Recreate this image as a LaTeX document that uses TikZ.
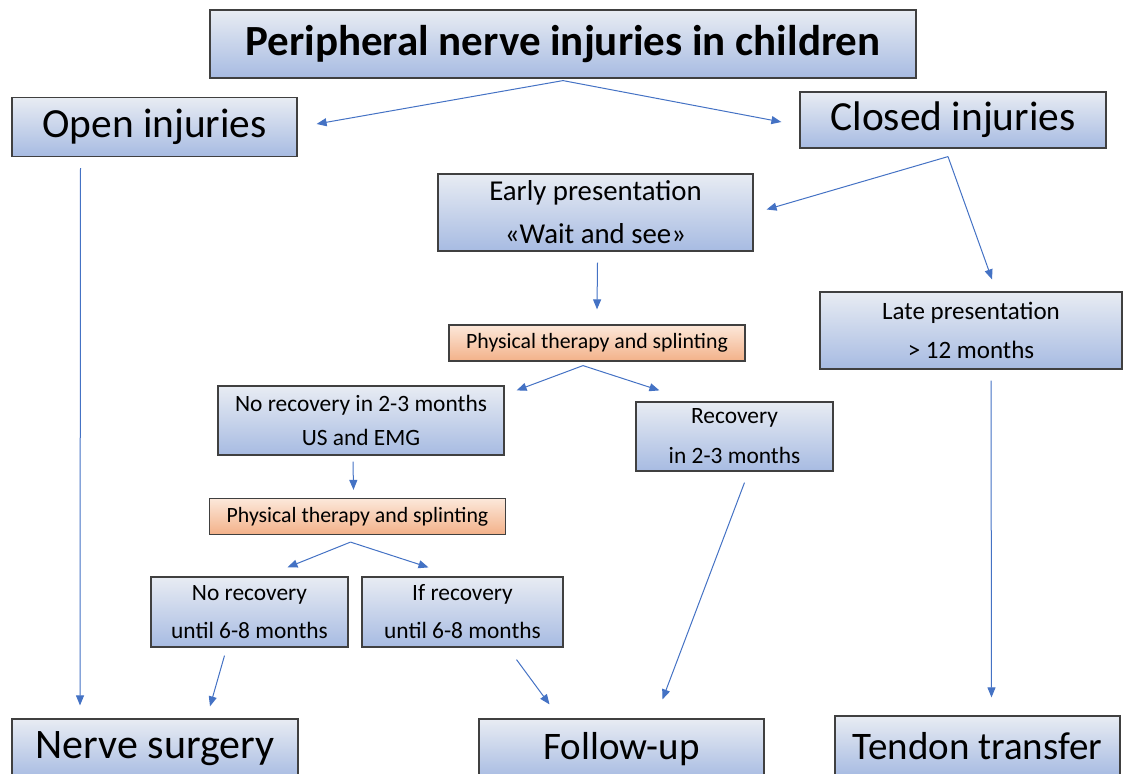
\documentclass[tikz,border=0pt]{standalone}
\usepackage{fontspec}
\setmainfont{Carlito}
\usetikzlibrary{arrows.meta}

\definecolor{boxtop}{HTML}{E8ECF3}
\definecolor{boxbot}{HTML}{A7BBE2}
\definecolor{ortop}{HTML}{FCE8DA}
\definecolor{orbot}{HTML}{F3B189}
\definecolor{linkblue}{HTML}{4472C4}

\begin{document}
\begin{tikzpicture}[x=0.5pt, y=-0.5pt,
		box/.style={draw=black!75, line width=0.6pt, top color=boxtop, bottom color=boxbot, align=center, inner sep=0pt},
		therapy/.style={box, top color=ortop, bottom color=orbot, minimum width=148pt, minimum height=18pt, font=\fontsize{10.9}{13}\selectfont},
		link/.style={draw=linkblue, line width=0.5pt, -{Triangle[length=5pt, width=4pt]}}]
		
		\useasboundingbox (0,0) rectangle (1124,774);
		
		\node[box, minimum width=353pt, minimum height=34pt, font=\fontsize{21.5}{26}\selectfont\bfseries] (title)      at (563,44)    {Peripheral nerve injuries in children};
		\node[box, minimum width=142.5pt, minimum height=29.5pt, font=\fontsize{20.7}{25}\selectfont]      (open)       at (154.5,127) {Open injuries};
		\node[box, minimum width=153pt, minimum height=28pt, font=\fontsize{20.7}{25}\selectfont]          (closed)     at (953,120)   {Closed injuries};
		\node[box, minimum width=157.5pt, minimum height=38.5pt, font=\fontsize{14.4}{21.5}\selectfont]    (early)      at (595.5,212.5) {Early presentation\\«Wait and see»};
		\node[therapy]                                                                                  (therapy 1)  at (597,343)   {Physical therapy and splinting};
		\node[box, minimum width=151pt, minimum height=38.5pt, font=\fontsize{12.5}{19.5}\selectfont]      (late)       at (971,330.5) {Late presentation\\> 12 months};
		\node[box, minimum width=143pt, minimum height=34.5pt, font=\fontsize{11.7}{17}\selectfont]        (no rec 1)   at (361,420.5) {No recovery in 2-3 months\\US and EMG};
		\node[box, minimum width=98.5pt, minimum height=34.5pt, font=\fontsize{11.7}{20}\selectfont]       (rec 1)      at (734.5,436.5) {Recovery\\in 2-3 months};
		\node[therapy]                                                                                  (therapy 2)  at (357.5,516.5) {Physical therapy and splinting};
		\node[box, minimum width=98.5pt, minimum height=35pt, font=\fontsize{11.7}{19}\selectfont]         (no rec 2)   at (249.5,612) {No recovery\\until 6-8 months};
		\node[box, minimum width=100.5pt, minimum height=35pt, font=\fontsize{11.7}{19}\selectfont]        (if rec 2)   at (462.5,612) {If recovery\\until 6-8 months};
		\node[box, minimum width=143pt, minimum height=30pt, font=\fontsize{21}{25}\selectfont]            (surgery)    at (155,749)   {Nerve surgery};
		\node[box, minimum width=142.5pt, minimum height=30pt, font=\fontsize{19.5}{24}\selectfont]        (follow up)  at (621.5,749) {Follow-up};
		\node[box, minimum width=142.5pt, minimum height=30pt, font=\fontsize{19.5}{24}\selectfont]        (tendon)     at (977.5,746) {Tendon transfer};
		
		
		\draw[link] ([yshift=-1pt]title.south) -- ([xshift=9.5pt, yshift=1.5pt]open.east);
		\draw[link] ([yshift=-1pt]title.south) -- ([xshift=-9pt, yshift=-1pt]closed.west);
		\draw[link] ([xshift=-37pt, yshift=-5.5pt]open.south) -- ([xshift=-37.5pt, yshift=6.5pt]surgery.north);
		\draw[link] ([xshift=-2.5pt, yshift=-4pt]closed.south) -- ([xshift=6.5pt, yshift=1.5pt]early.east);
		\draw[link] ([xshift=-2.5pt, yshift=-4pt]closed.south) -- ([xshift=10.5pt, yshift=6pt]late.north);
		\draw[link] ([xshift=1pt, yshift=-5.5pt]early.south) -- ([yshift=7.5pt]therapy 1.north);
		\draw[link] ([xshift=-7pt, yshift=-2pt]therapy 1.south) -- ([xshift=6pt, yshift=-2.5pt]no rec 1.north east);
		\draw[link] ([xshift=-7pt, yshift=-2pt]therapy 1.south) -- ([xshift=12pt, yshift=5.5pt]rec 1.north west);
		\draw[link] ([xshift=-4pt, yshift=-3pt]no rec 1.south) -- ([xshift=-2pt, yshift=4pt]therapy 2.north);
		\draw[link] ([xshift=-3.5pt, yshift=-3.5pt]therapy 2.south) -- ([xshift=19pt, yshift=4.5pt]no rec 2.north);
		\draw[link] ([xshift=-3.5pt, yshift=-3.5pt]therapy 2.south) -- ([xshift=-17pt, yshift=4.5pt]if rec 2.north);
		\draw[link] ([xshift=-12.5pt, yshift=-4pt]no rec 2.south) -- ([xshift=27.5pt, yshift=6pt]surgery.north);
		\draw[link] ([xshift=27pt, yshift=-6pt]if rec 2.south) -- ([xshift=-36pt, yshift=7pt]follow up.north);
		\draw[link] ([xshift=5pt, yshift=-5.5pt]rec 1.south) -- ([xshift=20.5pt, yshift=9.5pt]follow up.north);
		\draw[link] ([xshift=10pt, yshift=-5.5pt]late.south) -- ([xshift=7pt, yshift=9pt]tendon.north);
	\end{tikzpicture}
\end{document}
